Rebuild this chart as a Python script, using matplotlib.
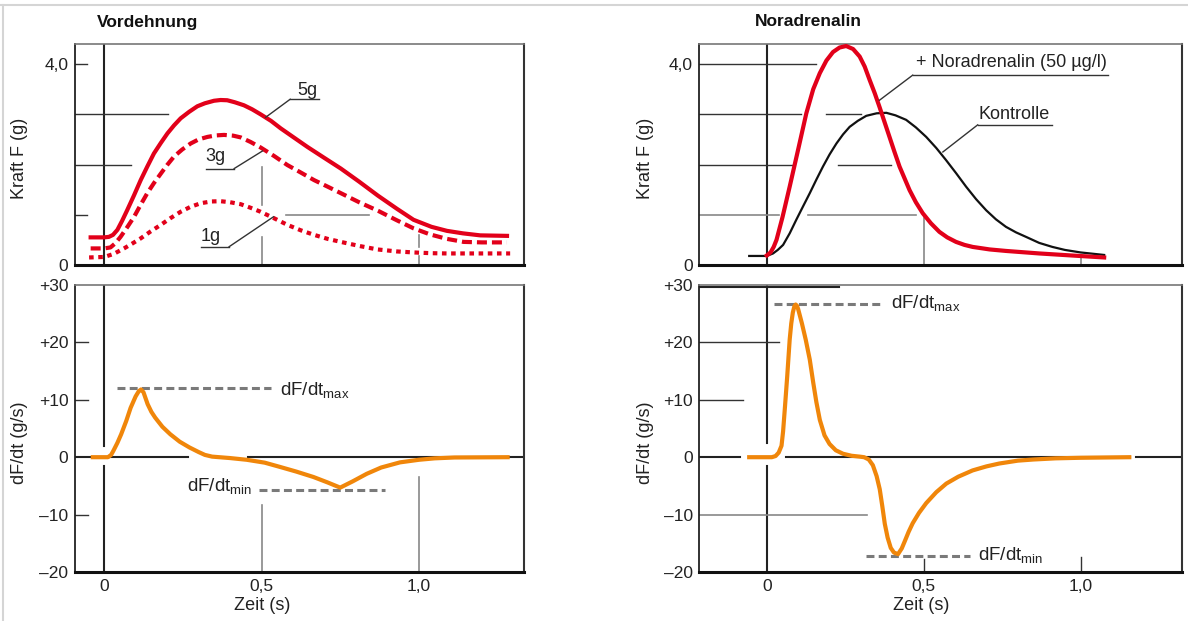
import matplotlib
matplotlib.use("Agg")
import matplotlib.pyplot as plt
from matplotlib.lines import Line2D

plt.rcParams['font.family'] = ['Liberation Sans', 'DejaVu Sans']
plt.rcParams['mathtext.fontset'] = 'custom'
plt.rcParams['mathtext.rm'] = 'Liberation Sans'
plt.rcParams['lines.solid_joinstyle'] = 'round'
plt.rcParams['lines.dash_joinstyle'] = 'round'

RED = '#e2001a'
ORANGE = '#f0860a'
GRAY = '#7a7a7a'

# ---- Vordehnung: Kraft F (g) over time (s)
t_5g = [-0.043, 0.0, 0.015, 0.028, 0.042, 0.057, 0.073, 0.095, 0.116, 0.137, 0.158,
        0.18, 0.201, 0.222, 0.243, 0.27, 0.296, 0.32, 0.349, 0.37, 0.391, 0.415,
        0.444, 0.47, 0.497, 0.53, 0.561, 0.6, 0.646, 0.7, 0.752, 0.81, 0.87, 0.93,
        0.983, 1.04, 1.089, 1.14, 1.195, 1.28]
f_5g = [0.55, 0.55, 0.56, 0.60, 0.70, 0.88, 1.09, 1.39, 1.69, 1.96, 2.22,
        2.43, 2.62, 2.78, 2.92, 3.05, 3.16, 3.22, 3.27, 3.285, 3.28, 3.24,
        3.18, 3.10, 3.00, 2.87, 2.72, 2.55, 2.35, 2.13, 1.92, 1.66, 1.38, 1.12,
        0.90, 0.76, 0.68, 0.63, 0.59, 0.58]
t_3g = [-0.043, 0.0, 0.02, 0.035, 0.052, 0.073, 0.095, 0.116, 0.137, 0.158, 0.18,
        0.2, 0.222, 0.248, 0.275, 0.3, 0.328, 0.355, 0.381, 0.41, 0.434, 0.465,
        0.497, 0.54, 0.582, 0.625, 0.667, 0.71, 0.752, 0.81, 0.87, 0.93, 0.983,
        1.035, 1.089, 1.142, 1.2, 1.28]
f_3g = [0.33, 0.33, 0.35, 0.43, 0.56, 0.75, 0.96, 1.20, 1.43, 1.63, 1.82,
        1.99, 2.16, 2.30, 2.42, 2.50, 2.55, 2.58, 2.59, 2.575, 2.54, 2.45,
        2.34, 2.17, 1.99, 1.84, 1.69, 1.56, 1.43, 1.25, 1.08, 0.89, 0.73,
        0.61, 0.52, 0.46, 0.45, 0.45]
t_1g = [-0.048, 0.0, 0.03, 0.063, 0.09, 0.116, 0.148, 0.18, 0.21, 0.243, 0.275,
        0.307, 0.34, 0.37, 0.40, 0.434, 0.465, 0.497, 0.54, 0.582, 0.625, 0.667,
        0.71, 0.752, 0.81, 0.868, 0.93, 0.983, 1.04, 1.089, 1.29]
f_1g = [0.15, 0.16, 0.22, 0.33, 0.43, 0.53, 0.67, 0.80, 0.93, 1.06, 1.16,
        1.23, 1.265, 1.27, 1.25, 1.21, 1.14, 1.06, 0.93, 0.80, 0.69, 0.60,
        0.52, 0.46, 0.38, 0.31, 0.27, 0.25, 0.235, 0.23, 0.23]

# ---- Noradrenalin
t_nor = [0.0, 0.012, 0.022, 0.031, 0.05, 0.073, 0.1, 0.126, 0.148, 0.169, 0.19,
         0.211, 0.232, 0.253, 0.275, 0.296, 0.312, 0.328, 0.344, 0.359, 0.375,
         0.391, 0.407, 0.423, 0.44, 0.455, 0.475, 0.497, 0.523, 0.55, 0.575,
         0.603, 0.63, 0.656, 0.71, 0.762, 0.868, 0.97, 1.075]
f_nor = [0.19, 0.25, 0.36, 0.50, 0.95, 1.56, 2.30, 3.02, 3.50, 3.82, 4.07,
         4.24, 4.33, 4.36, 4.30, 4.15, 3.95, 3.68, 3.42, 3.15, 2.85,
         2.55, 2.25, 1.96, 1.71, 1.49, 1.25, 1.03, 0.83, 0.66, 0.55,
         0.46, 0.40, 0.36, 0.31, 0.28, 0.23, 0.19, 0.15]
t_ctl = [-0.056, 0.0, 0.02, 0.035, 0.052, 0.073, 0.094, 0.115, 0.137, 0.158, 0.179,
         0.2, 0.222, 0.243, 0.264, 0.29, 0.317, 0.35, 0.381, 0.41, 0.444, 0.475,
         0.508, 0.54, 0.571, 0.603, 0.635, 0.667, 0.699, 0.73, 0.762, 0.794,
         0.826, 0.868, 0.91, 0.95, 1.0, 1.075]
f_ctl = [0.18, 0.18, 0.23, 0.30, 0.40, 0.63, 0.90, 1.16, 1.43, 1.70, 1.96,
         2.20, 2.42, 2.60, 2.75, 2.87, 2.97, 3.02, 3.03, 2.98, 2.89, 2.74,
         2.55, 2.33, 2.09, 1.83, 1.56, 1.31, 1.09, 0.91, 0.76, 0.65,
         0.56, 0.44, 0.36, 0.30, 0.25, 0.20]

# ---- dF/dt (g/s)
t_d1 = [-0.036, 0.012, 0.022, 0.03, 0.042, 0.054, 0.07, 0.084, 0.1, 0.11, 0.117,
        0.125, 0.138, 0.15, 0.162, 0.185, 0.21, 0.24, 0.271, 0.3, 0.32, 0.343,
        0.4, 0.453, 0.51, 0.559, 0.61, 0.665, 0.71, 0.75, 0.79, 0.834, 0.88,
        0.94, 1.0, 1.05, 1.113, 1.282]
d_d1 = [0.0, 0.0, 0.4, 1.2, 2.5, 4.0, 6.3, 8.6, 10.6, 11.5, 11.8,
        11.3, 9.25, 7.9, 6.9, 5.3, 4.0, 2.7, 1.7, 0.9, 0.4, 0.1,
        -0.15, -0.45, -0.95, -1.7, -2.5, -3.45, -4.4, -5.3, -4.2, -2.9, -1.8,
        -0.9, -0.45, -0.2, -0.05, 0.0]
t_d2 = [-0.056, 0.016, 0.028, 0.038, 0.047, 0.052, 0.058, 0.065, 0.073, 0.078, 0.083,
        0.088, 0.092, 0.096, 0.1, 0.112, 0.124, 0.137, 0.148, 0.158, 0.169, 0.184,
        0.2, 0.22, 0.243, 0.27, 0.296, 0.31, 0.325, 0.338, 0.35, 0.36, 0.368,
        0.376, 0.385, 0.395, 0.405, 0.418, 0.43, 0.44, 0.452, 0.465, 0.485,
        0.508, 0.54, 0.572, 0.61, 0.656, 0.7, 0.741, 0.8, 0.85, 0.92, 1.0, 1.155]
d_d2 = [0.0, 0.0, 0.2, 0.8, 2.0, 4.5, 8.8, 14.0, 20.5, 23.3, 25.2,
        26.3, 26.6, 26.4, 25.8, 23.3, 20.5, 17.0, 13.0, 9.6, 6.5, 3.8,
        2.3, 1.2, 0.6, 0.25, 0.1, 0.0, -0.4, -1.4, -3.3, -5.6, -8.5,
        -11.6, -14.0, -15.8, -16.6, -16.9, -15.9, -14.6, -13.0, -11.5, -9.7,
        -8.0, -6.1, -4.6, -3.4, -2.3, -1.6, -1.1, -0.6, -0.4, -0.2, -0.1, 0.0]

# marker levels for dF/dt max / min
dmax_1, dmin_1 = 12.0, -5.75
dmax_2, dmin_2 = 26.7, -17.2

W, H = 1188, 621
fig = plt.figure(figsize=(W / 100, H / 100), dpi=100)


def axbox(x0, x1, ytop, ybot):
    return [x0 / W, 1 - ybot / H, (x1 - x0) / W, (ybot - ytop) / H]


ax1 = fig.add_axes(axbox(74.6, 524, 44, 265))
ax2 = fig.add_axes(axbox(699.3, 1182, 44, 265))
ax3 = fig.add_axes(axbox(74.6, 524, 285, 572))
ax4 = fig.add_axes(axbox(699.3, 1182, 285, 572))

for ax in [ax1, ax2, ax3, ax4]:
    ax.spines['left'].set_color('#222')
    ax.spines['left'].set_linewidth(1.3)
    ax.spines['bottom'].set_color('#111')
    ax.spines['bottom'].set_linewidth(2.2)
    ax.spines['top'].set_color('#777')
    ax.spines['top'].set_linewidth(1.2)
    ax.spines['right'].set_color('#333')
    ax.spines['right'].set_linewidth(1.5)
    ax.tick_params(length=0, labelsize=12.5, colors='#222')
    ax.tick_params(axis='y', pad=4.5)
    ax.tick_params(axis='x', pad=5)

ax1.set_xlim(-0.094, 1.334)
ax3.set_xlim(-0.094, 1.334)
ax2.set_xlim(-0.215, 1.323)
ax4.set_xlim(-0.215, 1.323)
for ax in [ax1, ax2]:
    ax.set_ylim(0, 4.4)
    ax.set_yticks([0, 4.0])
    ax.set_yticklabels(['0', '4,0'])
    ax.set_xticks([])
for ax in [ax3, ax4]:
    ax.set_ylim(-20, 29.8)
    ax.set_yticks([30, 20, 10, 0, -10, -20])
    ax.set_yticklabels(['+30', '+20', '+10', '0', '\u201310', '\u201320'])
    ax.set_xticks([0, 0.5, 1.0])
    ax.set_xticklabels(['0', '0,5', '1,0'])

thin = dict(color='#333', lw=1.0, zorder=1)
grey = dict(color='#888', lw=1.2, zorder=1)

# ---- panel 1 helpers
ax1.axvline(0, color='#222', lw=1.5, zorder=1)
ax1.plot([-0.094, -0.054], [4.0, 4.0], **thin)
ax1.plot([-0.094, 0.204], [3.0, 3.0], **thin)
ax1.plot([-0.094, 0.086], [2.0, 2.0], **thin)
ax1.plot([-0.094, -0.054], [1.0, 1.0], **thin)
ax1.plot([0.577, 0.842], [1.0, 1.0], **grey)
ax1.plot([0.5, 0.5], [1.96, 1.2], **grey)
ax1.plot([0.5, 0.5], [0.56, 0.0], **grey)
ax1.plot([1.0, 1.0], [0.6, 0.36], **grey)
ax1.plot([1.0, 1.0], [0.17, 0.0], **grey)

ax1.plot(t_5g, f_5g, color=RED, lw=3, zorder=3)
ax1.plot(t_3g, f_3g, color=RED, lw=3, zorder=3, dashes=(2.4, 1.2))
ax1.plot(t_1g, f_1g, color=RED, lw=3, zorder=3, dashes=(1.1, 1.1))

ax1.text(0.645, 3.48, '5g', fontsize=13, ha='center', va='center', color='#222')
ax1.plot([0.591, 0.683], [3.30, 3.30], color='#333', lw=1.0)
ax1.plot([0.591, 0.513], [3.30, 2.94], color='#333', lw=1.0, zorder=4)
ax1.text(0.354, 2.155, '3g', fontsize=13, ha='center', va='center', color='#222')
ax1.plot([0.323, 0.413], [1.92, 1.92], color='#333', lw=1.0)
ax1.plot([0.413, 0.503], [1.92, 2.27], color='#333', lw=1.0, zorder=4)
ax1.text(0.34, 0.56, '1g', fontsize=13, ha='center', va='center', color='#222')
ax1.plot([0.307, 0.397], [0.364, 0.364], color='#333', lw=1.0)
ax1.plot([0.397, 0.538], [0.364, 0.96], color='#333', lw=1.0, zorder=4)

# ---- panel 2 helpers
ax2.axvline(0, color='#222', lw=1.5, zorder=1)
ax2.plot([-0.215, 0.158], [4.0, 4.0], **thin)
ax2.plot([-0.215, 0.11], [3.0, 3.0], **thin)
ax2.plot([0.188, 0.30], [3.0, 3.0], **thin)
ax2.plot([-0.215, 0.079], [2.0, 2.0], **thin)
ax2.plot([0.227, 0.397], [2.0, 2.0], **thin)
ax2.plot([-0.215, 0.039], [1.0, 1.0], **grey)
ax2.plot([0.131, 0.475], [1.0, 1.0], **grey)
ax2.plot([0.5, 0.5], [0.93, 0.0], **grey)
ax2.plot([1.0, 1.0], [0.14, 0.0], **grey)

ax2.plot(t_ctl, f_ctl, color='#111', lw=1.6, zorder=3)
ax2.plot(t_nor, f_nor, color=RED, lw=3, zorder=3)

ax2.text(0.474, 4.03, '+ Noradrenalin (50 \u00b5g/l)', fontsize=13, ha='left',
         va='center', color='#222')
ax2.plot([0.465, 1.087], [3.78, 3.78], color='#333', lw=1.0)
ax2.plot([0.465, 0.359], [3.78, 3.28], color='#333', lw=1.0, zorder=4)
ax2.text(0.676, 3.0, 'Kontrolle', fontsize=13, ha='left', va='center', color='#222')
ax2.plot([0.672, 0.909], [2.79, 2.79], color='#333', lw=1.0)
ax2.plot([0.672, 0.561], [2.79, 2.25], color='#333', lw=1.0, zorder=4)

# ---- panel 3 helpers
ax3.plot([0, 0], [29.8, 2.0], color='#222', lw=1.5, zorder=1)
ax3.plot([0, 0], [-1.45, -20], color='#222', lw=1.5, zorder=1)
for v in [20, 10, -10]:
    ax3.plot([-0.094, -0.052], [v, v], **thin)
ax3.plot([-0.094, 0.267], [0, 0], color='#222', lw=1.5, zorder=1)
ax3.plot([0.458, 1.334], [0, 0], color='#222', lw=1.5, zorder=1)
ax3.plot([0.5, 0.5], [-8.4, -20], **grey)
ax3.plot([1.0, 1.0], [-3.4, -20], **grey)

ax3.plot([0.042, 0.53], [dmax_1, dmax_1], color=GRAY, lw=2.2, dashes=(2.6, 1.4), zorder=2)
ax3.plot([0.493, 0.891], [dmin_1, dmin_1], color=GRAY, lw=2.2, dashes=(2.6, 1.4), zorder=2)
ax3.plot(t_d1, d_d1, color=ORANGE, lw=3, zorder=3)
ax3.text(0.56, 10.65, r'dF/dt$_{\rm max}$', fontsize=13.5, ha='left', va='baseline',
         color='#222')
ax3.text(0.469, -6.07, r'dF/dt$_{\rm min}$', fontsize=13.5, ha='right', va='baseline',
         color='#222')

# ---- panel 4 helpers
ax4.plot([0, 0], [29.8, 2.4], color='#222', lw=1.5, zorder=1)
ax4.plot([0, 0], [-1.6, -20], color='#222', lw=1.5, zorder=1)
ax4.plot([-0.215, 0.231], [29.7, 29.7], color='#222', lw=1.5, zorder=1)
ax4.plot([-0.215, 0.038], [20, 20], **thin)
ax4.plot([-0.215, -0.075], [10, 10], **thin)
ax4.plot([-0.215, 0.32], [-10, -10], **grey)
ax4.plot([-0.215, -0.085], [0, 0], color='#222', lw=1.5, zorder=1)
ax4.plot([0.06, 1.158], [0, 0], color='#222', lw=1.5, zorder=1)
ax4.plot([1.175, 1.323], [0, 0], color='#222', lw=1.5, zorder=1)
ax4.plot([0.5, 0.5], [-17.8, -20], color='#333', lw=1.0)
ax4.plot([1.0, 1.0], [-17.4, -20], color='#333', lw=1.0)

ax4.plot([0.022, 0.365], [dmax_2, dmax_2], color=GRAY, lw=2.2, dashes=(2.6, 1.4), zorder=2)
ax4.plot([0.315, 0.648], [dmin_2, dmin_2], color=GRAY, lw=2.2, dashes=(2.6, 1.4), zorder=2)
ax4.plot(t_d2, d_d2, color=ORANGE, lw=3, zorder=3)
ax4.text(0.397, 25.8, r'dF/dt$_{\rm max}$', fontsize=13.5, ha='left', va='baseline',
         color='#222')
ax4.text(0.672, -18.1, r'dF/dt$_{\rm min}$', fontsize=13.5, ha='left', va='baseline',
         color='#222')

# ---- figure texts
fig.text(97 / W, 1 - 22 / H, 'Vordehnung', fontsize=12.5, fontweight='bold',
         ha='left', va='center', color='#111')
fig.text(755 / W, 1 - 22 / H, 'Noradrenalin', fontsize=12.5, fontweight='bold',
         ha='left', va='center', color='#111')
for xp in [20, 645]:
    fig.text(xp / W, 1 - 158 / H, 'Kraft F (g)', fontsize=13, rotation=90,
             ha='center', va='center', color='#222')
    fig.text(xp / W, 1 - 443 / H, 'dF/dt (g/s)', fontsize=13, rotation=90,
             ha='center', va='center', color='#222')
fig.text(262 / W, 1 - 606 / H, 'Zeit (s)', fontsize=13, ha='center', va='center',
         color='#222')
fig.text(921.6 / W, 1 - 606 / H, 'Zeit (s)', fontsize=13, ha='center', va='center',
         color='#222')

# light outer frame
fig.add_artist(Line2D([0, 1], [1 - 5 / H, 1 - 5 / H], transform=fig.transFigure,
                      color='#d5d5d5', lw=1.5))
fig.add_artist(Line2D([3 / W, 3 / W], [0, 1 - 5 / H], transform=fig.transFigure,
                      color='#d5d5d5', lw=1.5))

fig.savefig('out.png', dpi=100)
